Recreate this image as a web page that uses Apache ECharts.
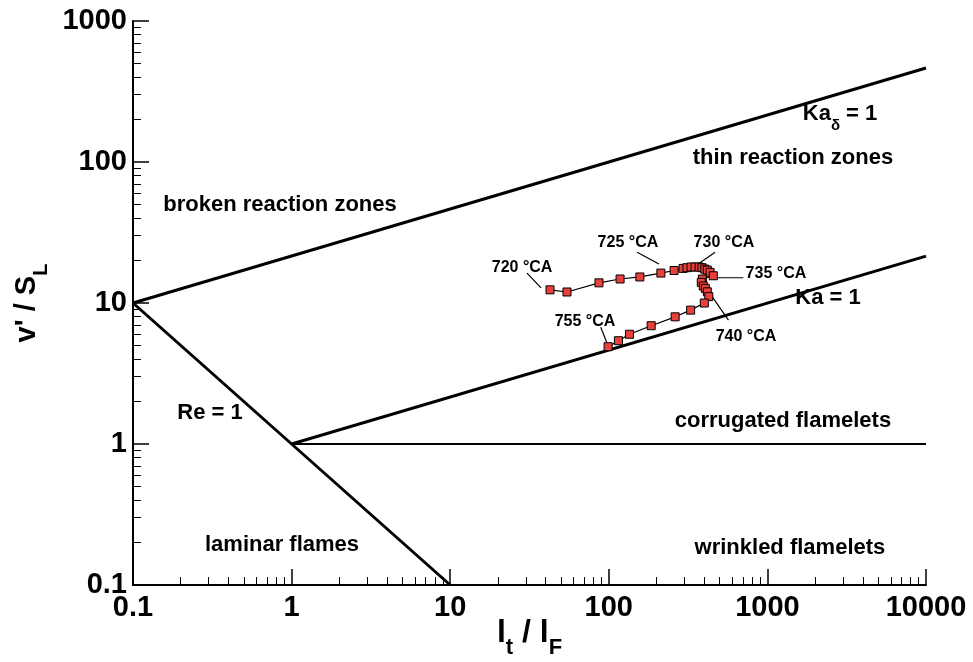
<!DOCTYPE html>
<html>
<head>
<meta charset="utf-8">
<script src="https://cdn.jsdelivr.net/npm/echarts@6/dist/echarts.min.js"></script>
<style>
  html, body { margin: 0; padding: 0; background: #fff; }
  #container { width: 973px; height: 662px; }
</style>
</head>
<body>
<div id="container"></div>
<script>
  // crank angle trajectory (l_t/l_F , v'/s_L)
  const trajX = [42.6, 54.5, 86.7, 117.8, 157, 213, 258, 294, 311, 330, 350, 371, 387, 403, 418, 435, 456,
                 389, 383, 394, 406, 418, 427, 400, 328, 262, 185, 135, 115, 99];
  const trajY = [12.4, 11.97, 13.9, 14.8, 15.3, 16.3, 17.0, 17.6, 17.8, 18.0, 18.0, 18.0, 17.8, 17.4, 17.1, 16.5, 15.6,
                 14.8, 14.0, 13.2, 12.7, 12.0, 11.1, 10.0, 8.9, 7.98, 6.9, 6.0, 5.4, 4.9];

  // regime boundaries
  const kaDeltaLine = [[0.1, 10], [10000, 464]];
  const kaLine = [[1, 1], [10000, 21.5]];
  const reLine = [[0.1, 10], [10, 0.1]];
  const unityLine = [[1, 1], [10000, 1]];

  // regime labels
  const regionNames = ['broken reaction zones', 'thin reaction zones', '{t|Ka}{s|δ}{t| = 1}', 'Re = 1',
                       'corrugated flamelets', 'Ka = 1', 'laminar flames', 'wrinkled flamelets'];
  const regionPos = [[0.845, 49.5], [1449, 106.7], [2870, 205], [0.306, 1.66],
                     [1253, 1.456], [2410, 10.8], [0.87, 0.192], [1387, 0.183]];

  // crank angle annotations
  const caNames = ['720 °CA', '725 °CA', '730 °CA', '735 °CA', '740 °CA', '755 °CA'];
  const caPos = [[28.4, 17.7], [132, 26.7], [532, 26.7], [1132, 16.1], [733, 5.74], [70.8, 7.33]];
  const caLeaders = [
    [[30.5, 16.3], [37.4, 12.8]],
    [[151, 22.9], [207, 18.9]],
    [[468, 22.9], [366, 18.9]],
    [[456, 15.1], [705, 15.1]],
    [[446, 11.2], [568, 7.55]],
    [[89, 6.72], [97.9, 5.12]]
  ];

  const font = "'Liberation Sans', Arial, Helvetica, sans-serif";
  let myChart = echarts.init(document.getElementById('container'));

  function tickFmt(v) {
    return String(+Number(v).toPrecision(4));
  }

  function boundary(data, width) {
    return {
      type: 'line', data: data, symbol: 'none', silent: true, z: 2,
      lineStyle: { color: '#000', width: width }
    };
  }

  let series = [
    boundary(kaDeltaLine, 3),
    boundary(kaLine, 3),
    boundary(reLine, 3),
    boundary(unityLine, 2)
  ];

  caLeaders.forEach(function (seg) {
    series.push({
      type: 'line', data: seg, symbol: 'none', silent: true, z: 3,
      lineStyle: { color: '#000', width: 1.2 }
    });
  });

  series.push({
    type: 'line',
    data: trajX.map(function (x, i) { return [x, trajY[i]]; }),
    symbol: 'rect',
    symbolSize: 8,
    showAllSymbol: true,
    z: 5,
    lineStyle: { color: '#000', width: 1.2 },
    itemStyle: { color: '#e8413c', borderColor: '#000', borderWidth: 1 }
  });

  series.push({
    type: 'scatter',
    symbolSize: 0,
    z: 6,
    silent: true,
    itemStyle: { opacity: 1 },
    data: regionNames.map(function (n, i) { return { name: n, value: regionPos[i] }; }),
    label: {
      show: true, position: 'inside', formatter: '{b}', opacity: 1,
      color: '#000', fontFamily: font, fontWeight: 'bold', fontSize: 22,
      rich: {
        t: { fontFamily: font, fontWeight: 'bold', fontSize: 22, color: '#000', padding: [0, 0, 8, 0], verticalAlign: 'top' },
        s: { fontFamily: font, fontWeight: 'bold', fontSize: 15, color: '#000', verticalAlign: 'bottom' }
      }
    }
  });

  series.push({
    type: 'scatter',
    symbolSize: 0,
    z: 6,
    silent: true,
    itemStyle: { opacity: 1 },
    data: caNames.map(function (n, i) { return { name: n, value: caPos[i] }; }),
    label: {
      show: true, position: 'inside', formatter: '{b}', opacity: 1,
      color: '#000', fontFamily: font, fontWeight: 'bold', fontSize: 16
    }
  });

  let option = {
    animation: false,
    backgroundColor: '#fff',
    grid: { left: 133, right: 47, top: 21, bottom: 77, outerBoundsMode: 'none', containLabel: false },
    xAxis: {
      type: 'log', logBase: 10, min: 0.1, max: 10000,
      name: '{a|l}{b|t}{a| / l}{b|F}',
      nameLocation: 'middle', nameGap: 32, nameMoveOverlap: false,
      nameTextStyle: {
        rich: {
          a: { fontFamily: font, fontWeight: 'bold', fontSize: 32, color: '#000', padding: [0, 0, 10, 0], verticalAlign: 'top' },
          b: { fontFamily: font, fontWeight: 'bold', fontSize: 22, color: '#000', verticalAlign: 'bottom' }
        }
      },
      axisLine: { show: true, onZero: false, lineStyle: { color: '#000', width: 2 } },
      axisTick: { show: true, inside: true, length: 16, lineStyle: { color: '#000', width: 1.5 } },
      minorTick: { show: true, splitNumber: 9, length: 8, lineStyle: { color: '#000', width: 1 } },
      splitLine: { show: false },
      minorSplitLine: { show: false },
      axisLabel: {
        margin: 8, color: '#000', fontFamily: font, fontWeight: 'bold', fontSize: 29,
        showMinLabel: true, showMaxLabel: true, formatter: tickFmt
      }
    },
    yAxis: {
      type: 'log', logBase: 10, min: 0.1, max: 1000,
      name: '{a|v\' / S}{b|L}',
      nameLocation: 'middle', nameRotate: 90, nameGap: 82, nameMoveOverlap: false,
      nameTextStyle: {
        rich: {
          a: { fontFamily: font, fontWeight: 'bold', fontSize: 29, color: '#000', padding: [0, 0, 10, 0], verticalAlign: 'top' },
          b: { fontFamily: font, fontWeight: 'bold', fontSize: 20, color: '#000', verticalAlign: 'bottom' }
        }
      },
      axisLine: { show: true, onZero: false, lineStyle: { color: '#000', width: 2 } },
      axisTick: { show: true, inside: true, length: 16, lineStyle: { color: '#000', width: 1.5 } },
      minorTick: { show: true, splitNumber: 9, length: 8, lineStyle: { color: '#000', width: 1 } },
      splitLine: { show: false },
      minorSplitLine: { show: false },
      axisLabel: {
        margin: 6, color: '#000', fontFamily: font, fontWeight: 'bold', fontSize: 29,
        showMinLabel: true, showMaxLabel: true, formatter: tickFmt
      }
    },
    series: series
  };

  if (option && typeof option === 'object') {
    myChart.setOption(option, true);
  }
</script>
</body>
</html>
